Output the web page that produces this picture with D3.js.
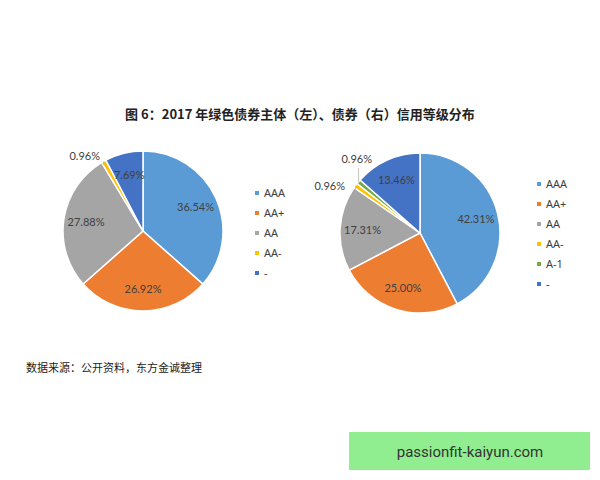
<!DOCTYPE html>
<html><head><meta charset="utf-8">
<script src="https://cdn.jsdelivr.net/npm/d3@7"></script>
<style>body{margin:0;background:#fff}</style></head>
<body><svg id="c" width="600" height="480"></svg>
<script>
const leftCats=["AAA","AA+","AA","AA-","-"];
const leftVals=[36.54,26.92,27.88,0.96,7.69];
const rightCats=["AAA","AA+","AA","AA-","A-1","-"];
const rightVals=[42.31,25.00,17.31,0.96,0.96,13.46];
const colors={"AAA":"#5B9BD5","AA+":"#ED7D31","AA":"#A5A5A5","AA-":"#FFC000","A-1":"#70AD47","-":"#4472C4"};
const svg=d3.select("#c");
const font="'Noto Sans CJK SC','Noto Sans',sans-serif";
svg.append("text").attr("x",300).attr("y",119).attr("text-anchor","middle").attr("font-family",font)
 .attr("font-size",13).attr("font-weight","bold").attr("fill","#222").text("图 6：2017 年绿色债券主体（左）、债券（右）信用等级分布");
svg.append("text").attr("x",26).attr("y",372).attr("font-family",font).attr("font-size",11).attr("fill","#222").text("数据来源：公开资料，东方金诚整理");
svg.append("rect").attr("x",349).attr("y",432).attr("width",241).attr("height",38).attr("fill","#90EE90");
svg.append("text").attr("x",470).attr("y",457).attr("text-anchor","middle").attr("font-family","Roboto,sans-serif").attr("font-size",15).attr("fill","#333").text("passionfit-kaiyun.com");

function pie(cats,vals,cx,cy,r,lx,ly,smallPos){
  const g=svg.append("g").attr("transform",`translate(${cx},${cy})`);
  const data=d3.pie().sort(null)(vals).map((a,i)=>({...a,c:cats[i]}));
  const arc=d3.arc().innerRadius(0).outerRadius(r);
  g.selectAll("path").data(data).join("path").attr("d",arc).attr("fill",d=>colors[d.c]).attr("stroke","#fff").attr("stroke-width",1.5);
  const inner=d3.arc().innerRadius(r*0.72).outerRadius(r*0.72);
  let si=0;
  data.forEach(d=>{
    const t=d.value.toFixed(2)+"%";
    if(d.value>2){
      const [x,y]=inner.centroid(d);
      g.append("text").attr("x",x).attr("y",y+4).attr("text-anchor","middle").attr("font-family","Lato,sans-serif").attr("font-size",11).attr("fill","#404040").text(t);
    } else {
      const p=smallPos[si++];
      const a=(d.startAngle+d.endAngle)/2;
      const ex=Math.sin(a)*r, ey=-Math.cos(a)*r;
      g.append("polyline").attr("points",`${ex},${ey} ${ex},${p[1]+5}`).attr("fill","none").attr("stroke","#aaa").attr("stroke-width",0.7);
      g.append("text").attr("x",p[0]).attr("y",p[1]).attr("text-anchor","end").attr("font-family","Lato,sans-serif").attr("font-size",11).attr("fill","#404040").text(t);
    }
  });
  const lg=svg.append("g");
  cats.forEach((c,i)=>{
    lg.append("rect").attr("x",lx).attr("y",ly+i*20-2).attr("width",4).attr("height",4).attr("fill",colors[c]);
    lg.append("text").attr("x",lx+9).attr("y",ly+i*20+4).attr("font-family","'Noto Sans',sans-serif").attr("font-size",11).attr("fill","#404040").text(c);
  });
}
pie(leftCats,leftVals,143,231,80,255,193,[[-43,-71]]);
pie(rightCats,rightVals,420,233,80,537,184,[[-75,-43],[-48,-70]]);
</script></body></html>
